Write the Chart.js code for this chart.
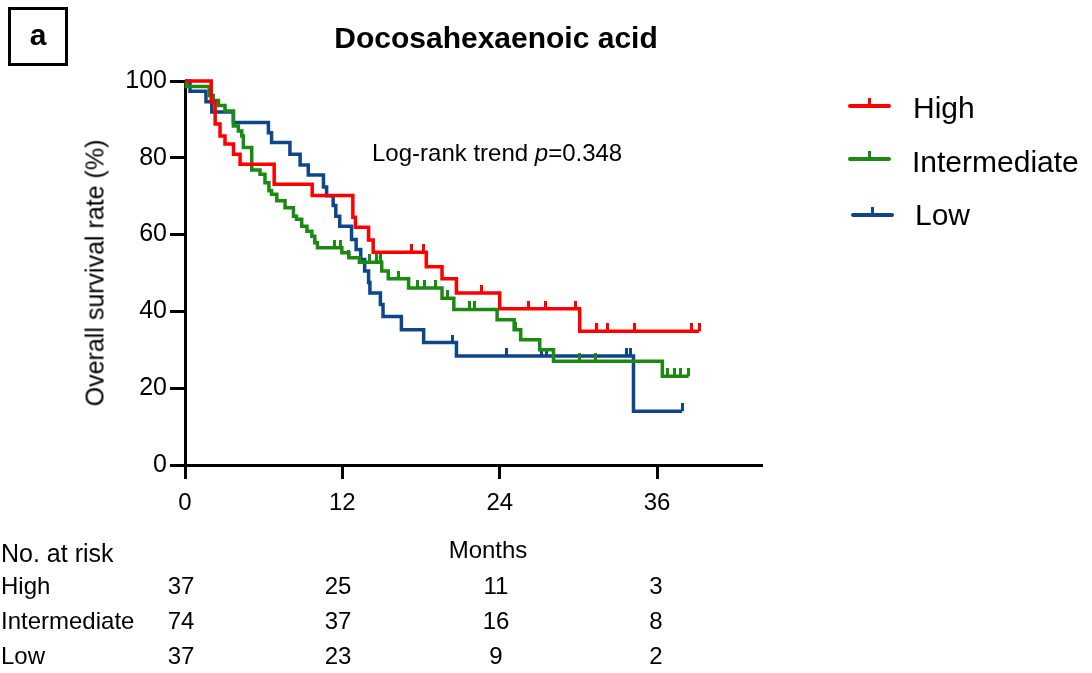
<!DOCTYPE html>
<html>
<head>
<meta charset="utf-8">
<script src="https://cdn.jsdelivr.net/npm/chart.js"></script>
<style>
  body { margin: 0; background: #fff; }
  #wrap { position: relative; width: 1092px; height: 673px; font-family: 'Liberation Sans', Arial, sans-serif; color: #000; }
  #chart { position: absolute; left: 0; top: 0; }
  .txt { position: absolute; white-space: nowrap; }
  .box { position: absolute; left: 8px; top: 7px; width: 54px; height: 53px; border: 3px solid #000; }
  .legLine { position: absolute; height: 4px; border-radius: 2px; }
  .legTick { position: absolute; width: 3px; height: 8px; }
</style>
</head>
<body>
<div id="wrap">
  <canvas id="chart" width="1092" height="673"></canvas>
</div>
<script>
// step points (months, % surviving after the step)
const highTimes = [0, 2.0, 2.3, 2.67, 3.05, 3.7, 4.2, 6.8, 9.7, 12.8, 13.0, 14.0, 14.35, 18.4, 19.6, 20.7, 24.0, 30.1, 39.2];
const highSurv  = [100, 94.6, 88.8, 85.7, 83.6, 80.9, 78.3, 73.1, 70.2, 64.5, 61.9, 58.6, 55.4, 51.6, 48.5, 44.8, 40.7, 34.8, 34.8];
const highCensor = [17.3, 18.2, 22.6, 26.2, 27.5, 29.8, 31.4, 32.2, 34.3, 38.6, 39.2];

const interTimes = [0, 0.1, 1.86, 2.16, 2.55, 3.05, 3.69, 4.07, 4.33, 4.45, 5.09, 5.72, 6.1, 6.4, 6.6, 7.0, 7.63, 8.27, 8.5, 8.9, 9.3, 9.67, 9.9, 10.1, 11.96, 12.5, 13.3, 15.0, 15.5, 17.05, 19.6, 20.5, 23.8, 25.1, 25.6, 27.05, 28.1, 36.4, 38.4];
const interSurv  = [100, 98.6, 96.2, 94.9, 93.6, 92.2, 88.3, 87.0, 85.7, 82.7, 76.8, 75.7, 73.5, 71.4, 70.5, 68.8, 67.0, 64.8, 64.0, 62.2, 60.9, 59.6, 57.9, 56.6, 55.3, 54.0, 52.8, 50.5, 48.5, 46.1, 43.4, 40.5, 37.8, 35.2, 32.6, 30.0, 27.0, 23.1, 23.1];
const interCensor = [11.4, 11.83, 12.5, 14.1, 14.6, 14.9, 16.3, 17.7, 18.3, 19.1, 20.0, 21.7, 22.1, 25.2, 30.1, 31.3, 36.8, 37.3, 37.8, 38.4];

const lowTimes = [0, 0.38, 1.6, 2.04, 3.69, 6.36, 6.6, 8.0, 8.78, 9.4, 10.56, 10.8, 11.3, 11.5, 11.8, 12.7, 13.05, 13.4, 13.7, 14.0, 14.1, 14.9, 15.1, 16.5, 18.2, 20.7, 34.2, 37.9];
const lowSurv  = [100, 97.3, 94.6, 91.9, 89.2, 86.5, 84.0, 80.9, 78.1, 75.5, 72.4, 70.1, 67.6, 64.8, 62.2, 58.7, 56.1, 53.5, 50.5, 47.5, 44.8, 41.8, 38.7, 35.2, 31.9, 28.4, 14.0, 14.0];
const lowCensor = [20.4, 24.5, 27.2, 27.6, 33.7, 34.0, 37.9];

const groupNames = ['High', 'Intermediate', 'Low'];
const groupColors = ['#ff0000', '#1a8a12', '#0e468c'];

const xTicks = [0, 12, 24, 36];
const yTicks = [0, 20, 40, 60, 80, 100];

// number at risk table
const riskHigh = [37, 25, 11, 3];
const riskInter = [74, 37, 16, 8];
const riskLow = [37, 23, 9, 2];

const FONT = "'Liberation Sans', Arial, sans-serif";

// value of the step curve at time t
function survAt(times, surv, t) {
    let v = surv[0];
    for (let i = 0; i < times.length; i++) {
        if (times[i] <= t) v = surv[i];
    }
    return v;
}

// little vertical tick used as the censor mark (drawn above the point)
function tickImage(color) {
    const c = document.createElement('canvas');
    c.width = 3;
    c.height = 16;
    const g = c.getContext('2d');
    g.fillStyle = color;
    g.fillRect(0, 0, 3, 8);
    return c;
}

const groups = [
    { times: highTimes, surv: highSurv, censor: highCensor },
    { times: interTimes, surv: interSurv, censor: interCensor },
    { times: lowTimes, surv: lowSurv, censor: lowCensor }
];

const datasets = [];
groups.forEach((g, i) => {
    datasets.push({
        label: groupNames[i],
        data: g.times.map((t, k) => ({ x: t, y: g.surv[k] })),
        borderColor: groupColors[i],
        borderWidth: 3.5,
        stepped: 'before',
        pointRadius: 0,
        fill: false,
        clip: false
    });
    datasets.push({
        label: groupNames[i] + ' censored',
        data: g.censor.map(t => ({ x: t, y: survAt(g.times, g.surv, t) })),
        showLine: false,
        pointStyle: tickImage(groupColors[i]),
        pointRadius: 3,
        clip: false
    });
});

new Chart(document.getElementById('chart'), {
    type: 'line',
    data: { datasets: datasets },
    options: {
        responsive: false,
        animation: false,
        layout: { padding: { top: 81, right: 330, left: 0, bottom: 0 } },
        plugins: { legend: { display: false }, tooltip: { enabled: false } },
        scales: {
            x: {
                type: 'linear',
                min: 0,
                max: 44,
                afterBuildTicks: s => { s.ticks = xTicks.map(v => ({ value: v })); },
                afterFit: s => { s.height = 208; },
                grid: { drawOnChartArea: false, drawTicks: true, tickLength: 14, tickWidth: 3, tickColor: '#000' },
                border: { display: true, width: 3, color: '#000' },
                ticks: { color: '#000', font: { family: FONT, size: 24 }, padding: 10, maxRotation: 0 }
            },
            y: {
                min: 0,
                max: 100,
                afterBuildTicks: s => { s.ticks = yTicks.map(v => ({ value: v })); },
                afterFit: s => { s.width = 185; },
                grid: { drawOnChartArea: false, drawTicks: true, tickLength: 15, tickWidth: 3, tickColor: '#000' },
                border: { display: true, width: 3, color: '#000' },
                ticks: { color: '#000', font: { family: FONT, size: 25 }, padding: 3 }
            }
        }
    }
});

// texts around the plot
const wrap = document.getElementById('wrap');
function addText(text, left, baseline, size, opts = {}) {
    const d = document.createElement('div');
    d.className = 'txt';
    d.innerHTML = text;
    d.style.fontSize = size + 'px';
    d.style.lineHeight = size + 'px';
    d.style.top = (baseline - 0.8465 * size) + 'px';
    d.style.left = left + 'px';
    if (opts.bold) d.style.fontWeight = 'bold';
    if (opts.center) d.style.transform = 'translateX(-50%)';
    wrap.appendChild(d);
    return d;
}

// panel letter
const box = document.createElement('div');
box.className = 'box';
wrap.appendChild(box);
addText('a', 38, 45, 30, { bold: true, center: true });

addText('Docosahexaenoic acid', 496, 48, 30, { bold: true, center: true });
addText('Log-rank trend <i>p</i>=0.348', 372, 161, 24);

// y axis title
const yTitle = document.createElement('div');
yTitle.className = 'txt';
yTitle.textContent = 'Overall survival rate (%)';
yTitle.style.fontSize = '25px';
yTitle.style.left = '95px';
yTitle.style.top = '273px';
yTitle.style.transform = 'translate(-50%, -50%) rotate(-90deg)';
wrap.appendChild(yTitle);

addText('Months', 488, 558, 24, { center: true });

// legend
const legY = [106, 159, 215];
const legLeft = [848, 848, 851];
const legText = [913, 912, 915];
const legBase = [118, 172, 225];
groupNames.forEach((name, i) => {
    const line = document.createElement('div');
    line.className = 'legLine';
    line.style.left = legLeft[i] + 'px';
    line.style.width = '43px';
    line.style.top = (legY[i] - 2) + 'px';
    line.style.background = groupColors[i];
    wrap.appendChild(line);
    const tick = document.createElement('div');
    tick.className = 'legTick';
    tick.style.left = (legLeft[i] + 20) + 'px';
    tick.style.top = (legY[i] - 8) + 'px';
    tick.style.background = groupColors[i];
    wrap.appendChild(tick);
    addText(name, legText[i], legBase[i], 30);
});

// number at risk
const riskX = [181, 338, 496, 656];
const riskRows = [riskHigh, riskInter, riskLow];
const riskBase = [594, 629, 664];
addText('No. at risk', 1, 562, 25);
groupNames.forEach((name, i) => {
    addText(name, 1, riskBase[i], 24);
    riskRows[i].forEach((n, k) => {
        addText(String(n), riskX[k], riskBase[i], 24, { center: true });
    });
});
</script>
</body>
</html>
